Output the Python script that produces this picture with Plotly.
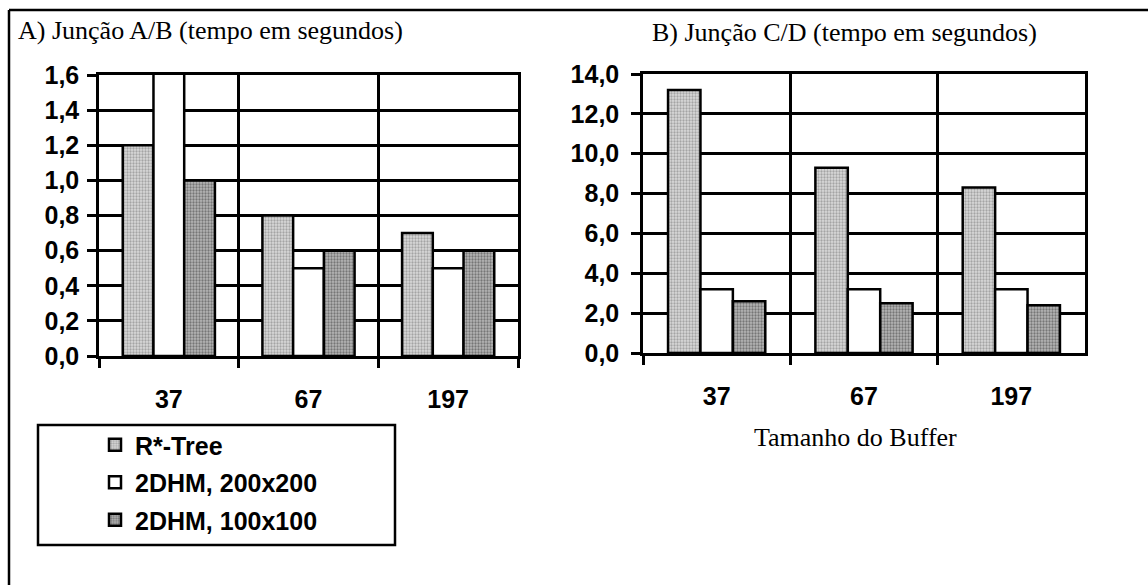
import plotly.graph_objects as go

W, H = 1148, 585

categories = ["37", "67", "197"]
series_names = ["R*-Tree", "2DHM, 200x200", "2DHM, 100x100"]

a_rtree = [1.2, 0.8, 0.7]
a_2dhm200 = [1.7, 0.5, 0.5]
a_2dhm100 = [1.0, 0.6, 0.6]

b_rtree = [13.2, 9.3, 8.3]
b_2dhm200 = [3.2, 3.2, 3.2]
b_2dhm100 = [2.6, 2.5, 2.4]

a_ticks = [0.0, 0.2, 0.4, 0.6, 0.8, 1.0, 1.2, 1.4, 1.6]
b_ticks = [0.0, 2.0, 4.0, 6.0, 8.0, 10.0, 12.0, 14.0]

title_a = "A) Junção A/B (tempo em segundos)"
title_b = "B) Junção C/D (tempo em segundos)"
xlabel_b = "Tamanho do Buffer"

SANS = "Liberation Sans"
SERIF = "Liberation Serif"

styles = [
    dict(color="#c6c6c6", pattern=dict(shape=".", fgcolor="#a4a4a4", bgcolor="#dadada", size=3, solidity=0.45)),
    dict(color="#ffffff"),
    dict(color="#9c9c9c", pattern=dict(shape=".", fgcolor="#767676", bgcolor="#b6b6b6", size=3, solidity=0.45)),
]


def px(x):
    return x / W


def py(y):
    return 1 - y / H


fig = go.Figure()

for i, (name, ya, yb) in enumerate(zip(series_names,
                                       [a_rtree, a_2dhm200, a_2dhm100],
                                       [b_rtree, b_2dhm200, b_2dhm100])):
    st = styles[i]
    marker = dict(color=st["color"], line=dict(color="black", width=2.5))
    if "pattern" in st:
        marker["pattern"] = st["pattern"]
    fig.add_trace(go.Bar(x=categories, y=ya, name=name, marker=marker,
                         xaxis="x", yaxis="y", legendgroup=name, showlegend=True))
    fig.add_trace(go.Bar(x=categories, y=yb, name=name, marker=marker,
                         xaxis="x2", yaxis="y2", legendgroup=name, showlegend=False))

axis_common = dict(
    showline=True, linecolor="black", linewidth=2.5, mirror=True,
    showgrid=True, gridcolor="black", gridwidth=2.5,
    ticks="outside", ticklen=9, tickwidth=2.5, tickcolor="black",
    zeroline=False, automargin=False,
    tickfont=dict(family=SANS, size=25, color="black", weight="bold"),
)

fig.update_layout(
    width=W, height=H,
    margin=dict(l=0, r=0, t=0, b=0),
    paper_bgcolor="white", plot_bgcolor="white",
    template="none",
    separators=",.",
    barmode="group", bargap=0.34, bargroupgap=0,
    xaxis=dict(domain=[px(99), px(518)], anchor="y", type="category",
               tickson="boundaries", ticklabelstandoff=19, **axis_common),
    yaxis=dict(domain=[py(356), py(75)], anchor="x", range=[0, 1.6],
               tickvals=a_ticks, tickformat=".1f", ticklabelstandoff=3, **axis_common),
    xaxis2=dict(domain=[px(643), px(1085)], anchor="y2", type="category",
                tickson="boundaries", ticklabelstandoff=19, **axis_common),
    yaxis2=dict(domain=[py(353), py(74)], anchor="x2", range=[0, 14],
                tickvals=b_ticks, tickformat=".1f", ticklabelstandoff=7, **axis_common),
    legend=dict(
        x=px(95), y=py(422), xanchor="left", yanchor="top",
        font=dict(family=SANS, size=25, color="black", weight="bold"),
        bgcolor="rgba(0,0,0,0)", borderwidth=0,
        tracegroupgap=2, itemwidth=30,
    ),
    showlegend=True,
)

# legend frame and outer frame
fig.add_shape(type="rect", xref="paper", yref="paper",
              x0=px(38), x1=px(395), y0=py(545), y1=py(425),
              line=dict(color="black", width=2.5), fillcolor="rgba(0,0,0,0)")
fig.add_shape(type="line", xref="paper", yref="paper",
              x0=px(9), x1=1, y0=py(10), y1=py(10), line=dict(color="black", width=2.5))
fig.add_shape(type="line", xref="paper", yref="paper",
              x0=px(9), x1=px(9), y0=py(10), y1=0, line=dict(color="black", width=2.5))

fig.add_annotation(text=title_a, xref="paper", yref="paper", x=px(16), y=py(30),
                   xanchor="left", yanchor="middle", showarrow=False,
                   font=dict(family=SERIF, size=26, color="black"))
fig.add_annotation(text=title_b, xref="paper", yref="paper", x=px(650), y=py(32),
                   xanchor="left", yanchor="middle", showarrow=False,
                   font=dict(family=SERIF, size=26, color="black"))
fig.add_annotation(text=xlabel_b, xref="paper", yref="paper", x=px(855), y=py(437),
                   xanchor="center", yanchor="middle", showarrow=False,
                   font=dict(family=SERIF, size=26, color="black"))

fig.write_html("out.html")
